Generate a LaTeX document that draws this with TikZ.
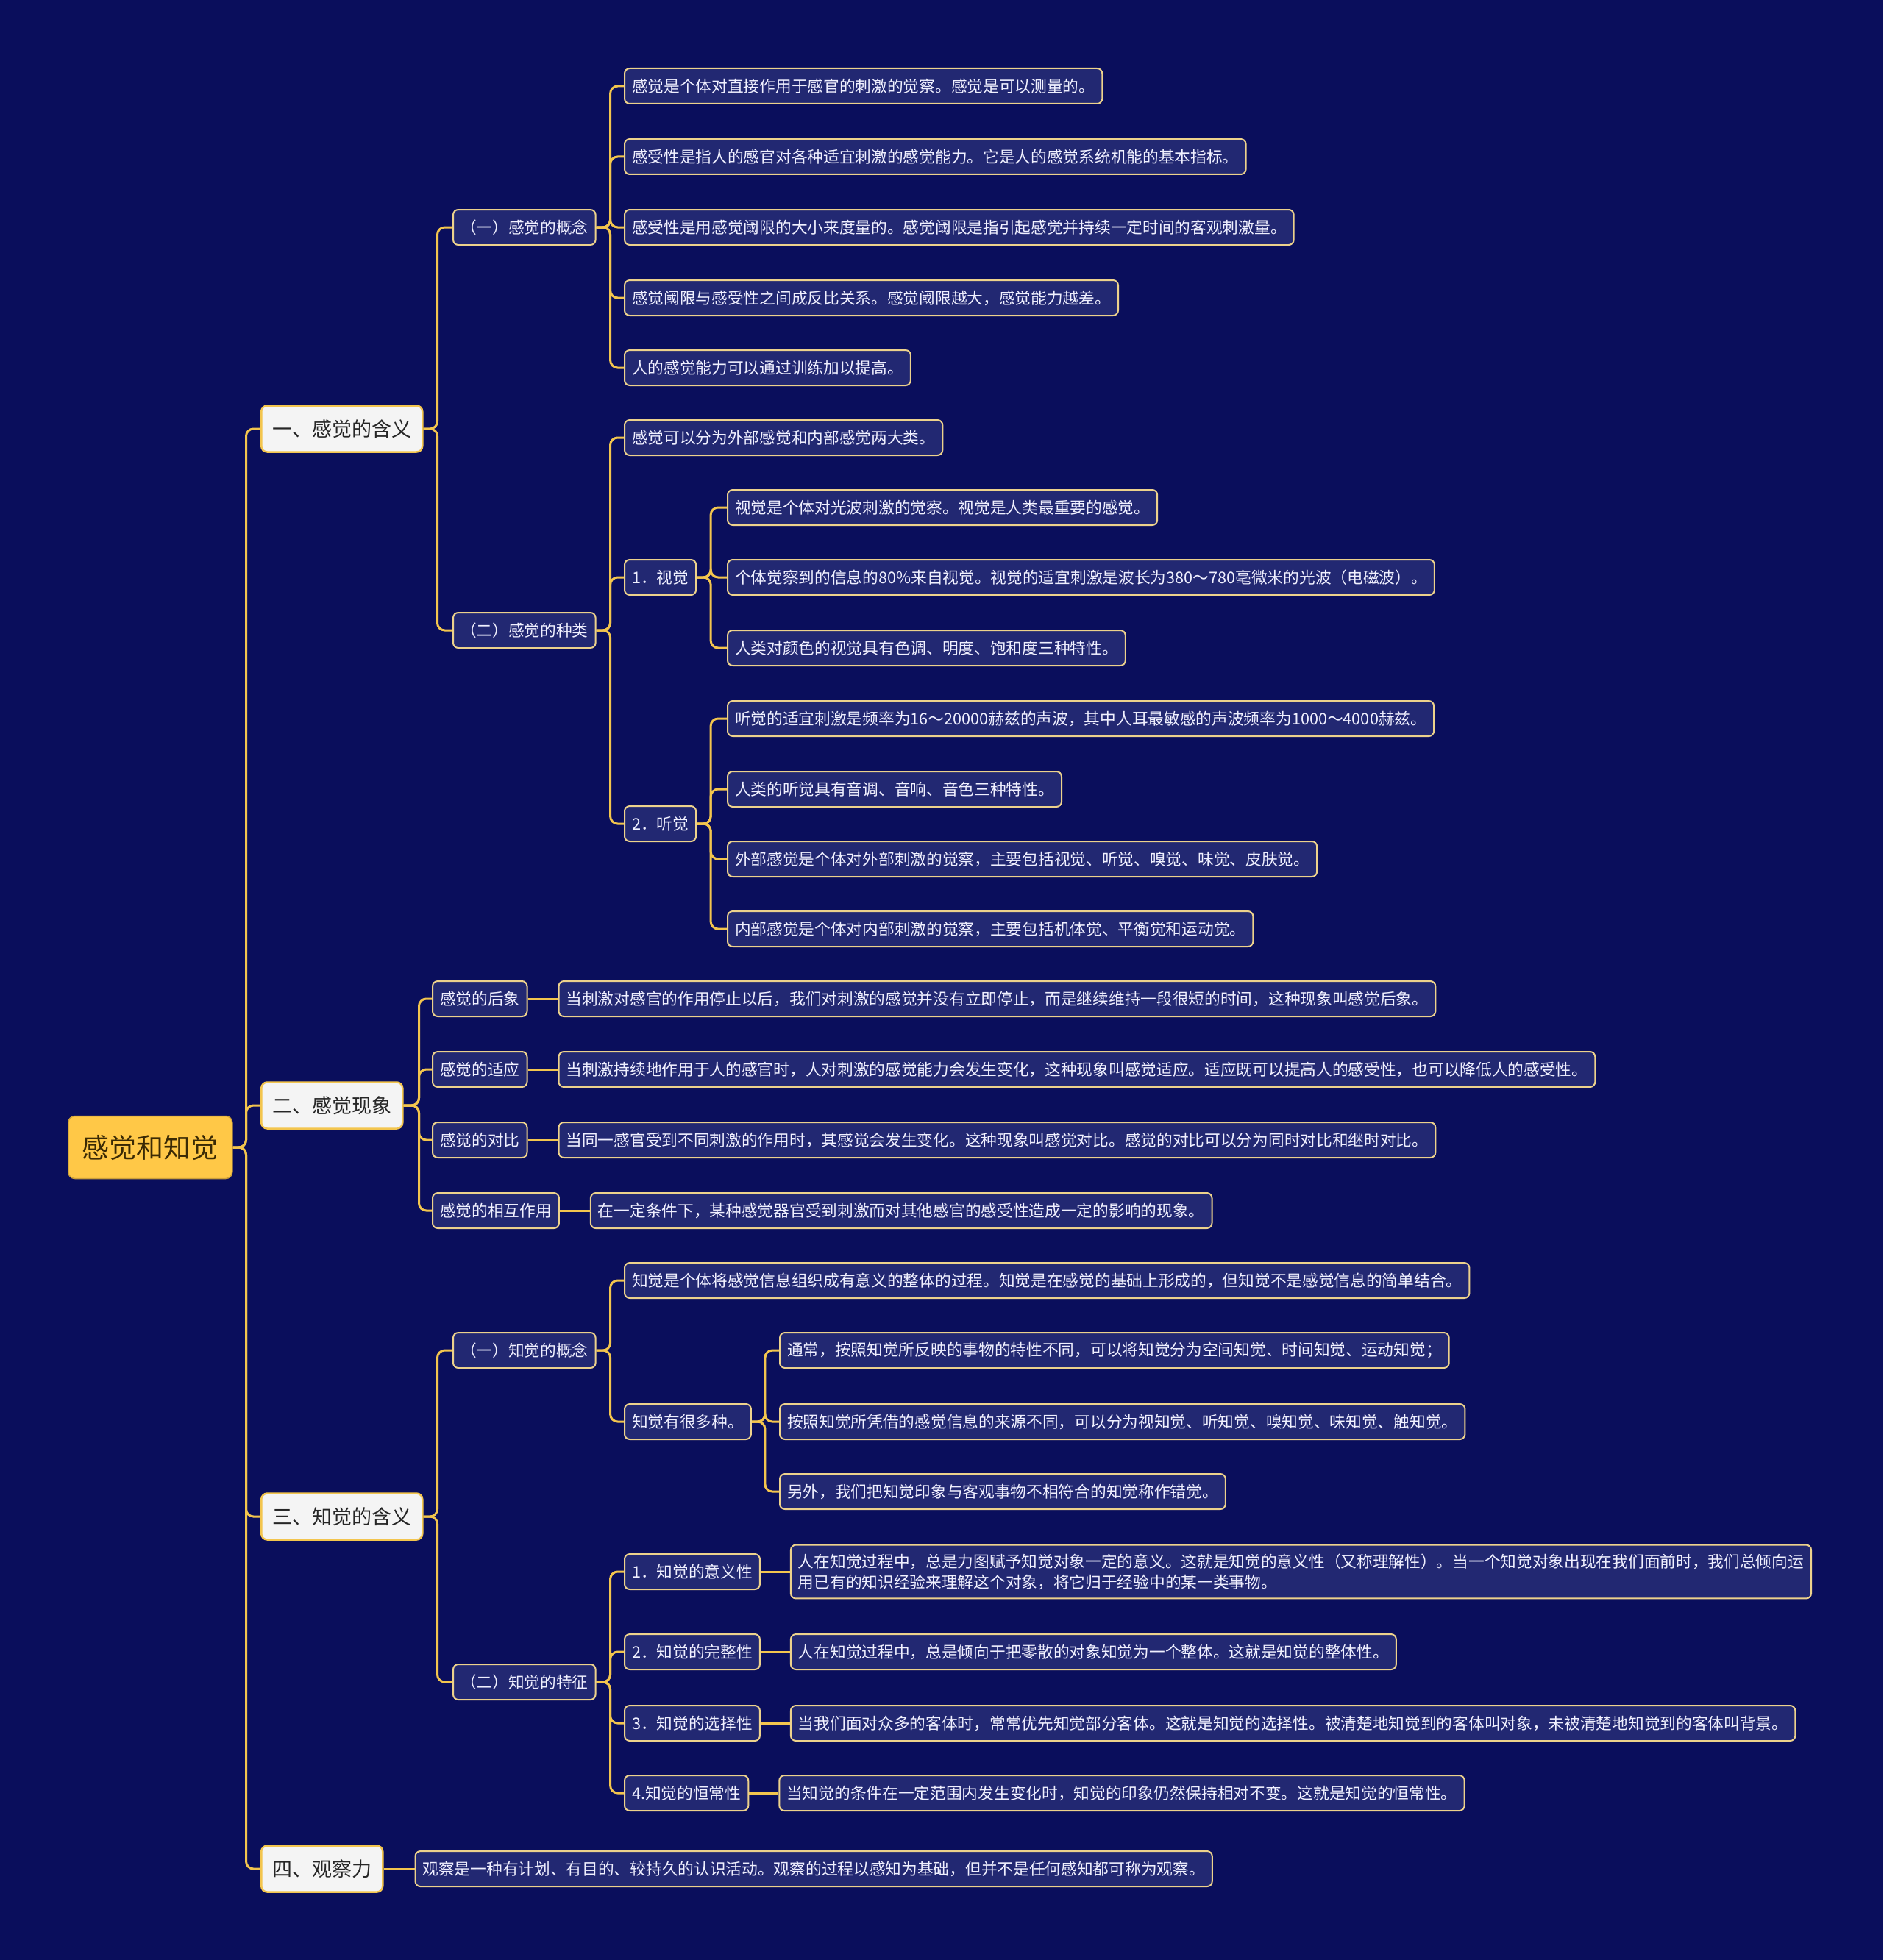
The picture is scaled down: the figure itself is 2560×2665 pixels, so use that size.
\documentclass[tikz,border=0pt]{standalone}
\usepackage{fontspec}
\setmainfont{Noto Sans CJK SC}
\usepackage{tikz}
\usetikzlibrary{positioning,backgrounds}
\definecolor{bg}{HTML}{0A0E5C}
\definecolor{gold}{HTML}{F3C54E}
\definecolor{boxfill}{HTML}{222872}
\definecolor{boxbd}{HTML}{EDD28C}
\definecolor{secfill}{HTML}{F4F4F4}
\definecolor{rootfill}{HTML}{FFC847}
\definecolor{rootink}{HTML}{3A2A05}

\begin{document}
\begin{tikzpicture}[
  x=1pt,y=-1pt,
  rt/.style={draw=rootfill!80!black,line width=1.5,fill=rootfill,rounded corners=9,text=rootink,
    font=\fontsize{37}{44}\selectfont,minimum height=85,inner xsep=19,anchor=west},
  sec/.style={draw=gold,line width=2.5,fill=secfill,rounded corners=8,text=black!85,
    font=\fontsize{27}{32}\selectfont,minimum height=63,inner xsep=15,anchor=west},
  box/.style={draw=boxbd,line width=2,fill=boxfill,rounded corners=7,text=white!94!blue,
    font=\fontsize{21.7}{28}\selectfont,minimum height=48,inner xsep=10,anchor=west},
  lk/.style={draw=gold,line width=3,rounded corners=10}
]
% root and the four sections
\node[rt] (R) at (92,1560) {感觉和知觉};
\node[sec] (S1) at (354,583)  {一、感觉的含义};
\node[sec] (S2) at (354,1503) {二、感觉现象};
\node[sec] (S3) at (354,2062) {三、知觉的含义};
\node[sec] (S4) at (354,2541) {四、观察力};
% section one
\node[box] (S1a) at (615,309) {（一）感觉的概念};
\node[box] (S1b) at (615,857) {（二）感觉的种类};
\node[box] (a1) at (848,117) {感觉是个体对直接作用于感官的刺激的觉察。感觉是可以测量的。};
\node[box] (a2) at (848,213) {感受性是指人的感官对各种适宜刺激的感觉能力。它是人的感觉系统机能的基本指标。};
\node[box] (a3) at (848,309) {感受性是用感觉阈限的大小来度量的。感觉阈限是指引起感觉并持续一定时间的客观刺激量。};
\node[box] (a4) at (848,405) {感觉阈限与感受性之间成反比关系。感觉阈限越大，感觉能力越差。};
\node[box] (a5) at (848,500) {人的感觉能力可以通过训练加以提高。};
\node[box] (b1) at (848,595)  {感觉可以分为外部感觉和内部感觉两大类。};
\node[box] (V)  at (848,785)  {1．视觉};
\node[box] (H)  at (848,1120) {2．听觉};
\node[box] (v1) at (988,690) {视觉是个体对光波刺激的觉察。视觉是人类最重要的感觉。};
\node[box] (v2) at (988,785) {个体觉察到的信息的80\%来自视觉。视觉的适宜刺激是波长为380～780毫微米的光波（电磁波）。};
\node[box] (v3) at (988,881) {人类对颜色的视觉具有色调、明度、饱和度三种特性。};
\node[box] (h1) at (988,977)  {听觉的适宜刺激是频率为16～20000赫兹的声波，其中人耳最敏感的声波频率为1000～4000赫兹。};
\node[box] (h2) at (988,1073) {人类的听觉具有音调、音响、音色三种特性。};
\node[box] (h3) at (988,1168) {外部感觉是个体对外部刺激的觉察，主要包括视觉、听觉、嗅觉、味觉、皮肤觉。};
\node[box] (h4) at (988,1263) {内部感觉是个体对内部刺激的觉察，主要包括机体觉、平衡觉和运动觉。};
% section two
\node[box] (p1) at (587,1358) {感觉的后象};
\node[box] (p2) at (587,1454) {感觉的适应};
\node[box] (p3) at (587,1550) {感觉的对比};
\node[box] (p4) at (587,1646) {感觉的相互作用};
\node[box,right=41pt of p1] (q1) {当刺激对感官的作用停止以后，我们对刺激的感觉并没有立即停止，而是继续维持一段很短的时间，这种现象叫感觉后象。};
\node[box,right=41pt of p2] (q2) {当刺激持续地作用于人的感官时，人对刺激的感觉能力会发生变化，这种现象叫感觉适应。适应既可以提高人的感受性，也可以降低人的感受性。};
\node[box,right=41pt of p3] (q3) {当同一感官受到不同刺激的作用时，其感觉会发生变化。这种现象叫感觉对比。感觉的对比可以分为同时对比和继时对比。};
\node[box,right=41pt of p4] (q4) {在一定条件下，某种感觉器官受到刺激而对其他感官的感受性造成一定的影响的现象。};
% section three
\node[box] (K1) at (615,1836) {（一）知觉的概念};
\node[box] (K2) at (615,2287) {（二）知觉的特征};
\node[box] (k1) at (848,1741) {知觉是个体将感觉信息组织成有意义的整体的过程。知觉是在感觉的基础上形成的，但知觉不是感觉信息的简单结合。};
\node[box] (M)  at (848,1933) {知觉有很多种。};
\node[box] (m1) at (1059,1836) {通常，按照知觉所反映的事物的特性不同，可以将知觉分为空间知觉、时间知觉、运动知觉；};
\node[box] (m2) at (1059,1933) {按照知觉所凭借的感觉信息的来源不同，可以分为视知觉、听知觉、嗅知觉、味知觉、触知觉。};
\node[box] (m3) at (1059,2028) {另外，我们把知觉印象与客观事物不相符合的知觉称作错觉。};
\node[box] (f1) at (848,2137) {1．知觉的意义性};
\node[box] (f2) at (848,2246) {2．知觉的完整性};
\node[box] (f3) at (848,2343) {3．知觉的选择性};
\node[box] (f4) at (848,2438) {4.知觉的恒常性};
\node[box,right=40pt of f1,align=left,inner ysep=12] (g1) {人在知觉过程中，总是力图赋予知觉对象一定的意义。这就是知觉的意义性（又称理解性）。当一个知觉对象出现在我们面前时，我们总倾向运\\用已有的知识经验来理解这个对象，将它归于经验中的某一类事物。};
\node[box,right=40pt of f2] (g2) {人在知觉过程中，总是倾向于把零散的对象知觉为一个整体。这就是知觉的整体性。};
\node[box,right=40pt of f3] (g3) {当我们面对众多的客体时，常常优先知觉部分客体。这就是知觉的选择性。被清楚地知觉到的客体叫对象，未被清楚地知觉到的客体叫背景。};
\node[box,right=40pt of f4] (g4) {当知觉的条件在一定范围内发生变化时，知觉的印象仍然保持相对不变。这就是知觉的恒常性。};
% section four
\node[box,right=42pt of S4] (o1) {观察是一种有计划、有目的、较持久的认识活动。观察的过程以感知为基础，但并不是任何感知都可称为观察。};
% canvas and branches, behind the boxes
\begin{scope}[on background layer]
\fill[bg] (0,0) rectangle (2560,2665);
\draw[lk] (R.east) -- ++(18,0) |- (S1.west);
\draw[lk] (R.east) -- ++(18,0) |- (S2.west);
\draw[lk] (R.east) -- ++(18,0) |- (S3.west);
\draw[lk] (R.east) -- ++(18,0) |- (S4.west);
\draw[lk] (S1.east) -- ++(19,0) |- (S1a.west);
\draw[lk] (S1.east) -- ++(19,0) |- (S1b.west);
\draw[lk] (S1a.east) -- ++(19,0) |- (a1.west);
\draw[lk] (S1a.east) -- ++(19,0) |- (a2.west);
\draw[lk] (S1a.east) -- ++(19,0) |- (a3.west);
\draw[lk] (S1a.east) -- ++(19,0) |- (a4.west);
\draw[lk] (S1a.east) -- ++(19,0) |- (a5.west);
\draw[lk] (S1b.east) -- ++(19,0) |- (b1.west);
\draw[lk] (S1b.east) -- ++(19,0) |- (V.west);
\draw[lk] (S1b.east) -- ++(19,0) |- (H.west);
\draw[lk] (V.east) -- ++(19,0) |- (v1.west);
\draw[lk] (V.east) -- ++(19,0) |- (v2.west);
\draw[lk] (V.east) -- ++(19,0) |- (v3.west);
\draw[lk] (H.east) -- ++(19,0) |- (h1.west);
\draw[lk] (H.east) -- ++(19,0) |- (h2.west);
\draw[lk] (H.east) -- ++(19,0) |- (h3.west);
\draw[lk] (H.east) -- ++(19,0) |- (h4.west);
\draw[lk] (S2.east) -- ++(21,0) |- (p1.west);
\draw[lk] (S2.east) -- ++(21,0) |- (p2.west);
\draw[lk] (S2.east) -- ++(21,0) |- (p3.west);
\draw[lk] (S2.east) -- ++(21,0) |- (p4.west);
\draw[lk] (p1) -- (q1);
\draw[lk] (p2) -- (q2);
\draw[lk] (p3) -- (q3);
\draw[lk] (p4) -- (q4);
\draw[lk] (S3.east) -- ++(19,0) |- (K1.west);
\draw[lk] (S3.east) -- ++(19,0) |- (K2.west);
\draw[lk] (K1.east) -- ++(19,0) |- (k1.west);
\draw[lk] (K1.east) -- ++(19,0) |- (M.west);
\draw[lk] (M.east) -- ++(18,0) |- (m1.west);
\draw[lk] (M.east) -- ++(18,0) |- (m2.west);
\draw[lk] (M.east) -- ++(18,0) |- (m3.west);
\draw[lk] (K2.east) -- ++(19,0) |- (f1.west);
\draw[lk] (K2.east) -- ++(19,0) |- (f2.west);
\draw[lk] (K2.east) -- ++(19,0) |- (f3.west);
\draw[lk] (K2.east) -- ++(19,0) |- (f4.west);
\draw[lk] (f1) -- (g1);
\draw[lk] (f2) -- (g2);
\draw[lk] (f3) -- (g3);
\draw[lk] (f4) -- (g4);
\draw[lk] (S4) -- (o1);
\end{scope}
\end{tikzpicture}
\end{document}
